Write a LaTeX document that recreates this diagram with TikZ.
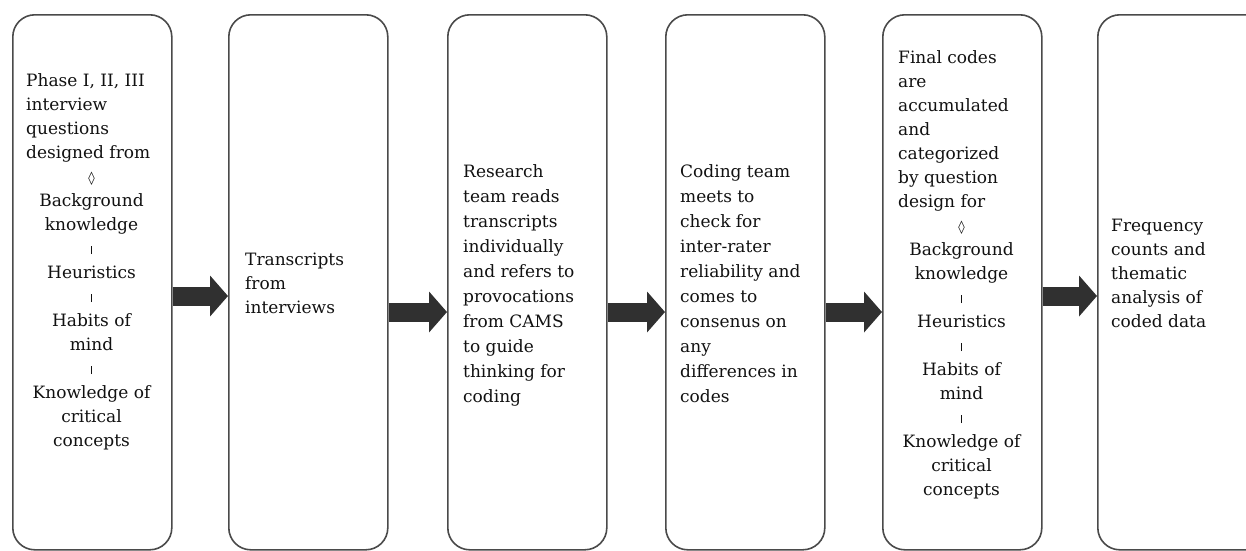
\documentclass[tikz,border=0pt]{standalone}
\usepackage{fontspec}
\setmainfont{DejaVu Serif}
\usetikzlibrary{arrows.meta}
\definecolor{boxgray}{HTML}{4A4A4A}
\definecolor{arrowgray}{HTML}{303030}
\definecolor{txtgray}{HTML}{111111}
\newcommand\sepbar{\rule{1.3pt}{8.5pt}}
\newcommand\lozg{{\fontsize{13}{13}\selectfont ◊}}
\begin{document}
\begin{tikzpicture}[x=1pt,y=-1pt,
  stage/.style={draw=boxgray, line width=1.6pt, rounded corners=22pt,
    minimum width=159pt, minimum height=535pt, anchor=north west, inner sep=0pt},
  lefttext/.style={text=txtgray, inner sep=0pt, anchor=base west,
    font=\fontsize{17}{24}\selectfont},
  midtext/.style={text=txtgray, inner sep=0pt, anchor=base,
    font=\fontsize{17}{24}\selectfont},
  widetext/.style={lefttext, font=\fontsize{17}{25}\selectfont},
  flowarrow/.style={draw=arrowgray, line width=19pt,
    -{Triangle[length=18pt,width=40pt]}}]
\useasboundingbox (0,0) rectangle (1246,550);
\clip (0,0) rectangle (1246,550);
\fill[white] (0,0) rectangle (1246,550);

% stage boxes
\node[stage] (b1) at (12,14) {};
\node[stage] (b2) at (228,14) {};
\node[stage] (b3) at (447,14) {};
\node[stage] (b4) at (665,14) {};
\node[stage] (b5) at (882,14) {};
\node[stage, minimum width=175pt] (b6) at (1097,14) {};

% box 1 text
\node[lefttext] (t1a) at (26,86) {\begin{tabular}[t]{@{}l@{}}Phase I, II, III\\interview\\questions\\designed from\end{tabular}};
\node[midtext] (t1b) at (91.5,182) {\begin{tabular}[t]{@{}c@{}}\lozg\\Background\\knowledge\\\sepbar\\Heuristics\\\sepbar\\Habits of\\mind\\\sepbar\\Knowledge of\\critical\\concepts\end{tabular}};

% box 2 text
\node[lefttext] (t2) at (245,265) {\begin{tabular}[t]{@{}l@{}}Transcripts\\from\\interviews\end{tabular}};

% box 3 text
\node[widetext] (t3) at (463,177) {\begin{tabular}[t]{@{}l@{}}Research\\team reads\\transcripts\\individually\\and refers to\\provocations\\from CAMS\\to guide\\thinking for\\coding\end{tabular}};

% box 4 text
\node[widetext] (t4) at (680,177) {\begin{tabular}[t]{@{}l@{}}Coding team\\meets to\\check for\\inter-rater\\reliability and\\comes to\\consenus on\\any\\differences in\\codes\end{tabular}};

% box 5 text
\node[lefttext] (t5a) at (898,63) {\begin{tabular}[t]{@{}l@{}}Final codes\\are\\accumulated\\and\\categorized\\by question\\design for\end{tabular}};
\node[midtext] (t5b) at (961.5,231) {\begin{tabular}[t]{@{}c@{}}\lozg\\Background\\knowledge\\\sepbar\\Heuristics\\\sepbar\\Habits of\\mind\\\sepbar\\Knowledge of\\critical\\concepts\end{tabular}};

% box 6 text
\node[lefttext] (t6) at (1111,231) {\begin{tabular}[t]{@{}l@{}}Frequency\\counts and\\thematic\\analysis of\\coded data\end{tabular}};

% arrows
\coordinate (ya) at (0,296);
\coordinate (yb) at (0,312);
\draw[flowarrow] (b1.east |- ya) -- (b2.west |- ya);
\draw[flowarrow] (b2.east |- yb) -- (b3.west |- yb);
\draw[flowarrow] (b3.east |- yb) -- (b4.west |- yb);
\draw[flowarrow] (b4.east |- yb) -- (b5.west |- yb);
\draw[flowarrow] (b5.east |- ya) -- (b6.west |- ya);
\end{tikzpicture}
\end{document}
